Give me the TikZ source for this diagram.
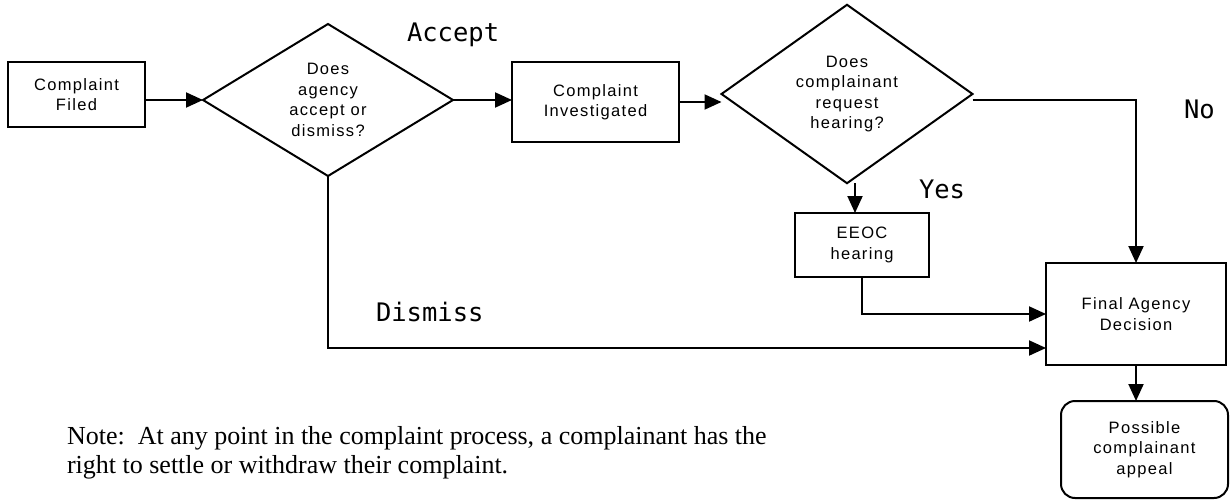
\documentclass[tikz,border=0pt]{standalone}
\usepackage{fontspec}
\setmainfont{Liberation Serif}
\newfontfamily\boxfont[LetterSpace=8]{Liberation Sans}
\newfontfamily\labfont{DejaVu Sans Mono}
\usetikzlibrary{shapes.geometric,arrows.meta}
\begin{document}
\begin{tikzpicture}[x=1pt,y=-1pt,
  every node/.style={inner sep=0pt, outer sep=0pt},
  txt/.style={align=center, font=\boxfont\fontsize{16.5}{20.5}\selectfont},
  proc/.style={txt, draw, line width=2pt, rectangle},
  dec/.style={txt, draw, line width=2pt, diamond},
  conn/.style={line width=2pt},
  arr/.style={conn, -{Triangle[length=17pt,width=15pt]}},
  lab/.style={font=\labfont\fontsize{25.5}{30}\selectfont, anchor=base west},
  note/.style={font=\fontsize{26}{29}\selectfont, anchor=base west}
]
\useasboundingbox (0,0) rectangle (1230,500);

\node[proc, minimum width=137pt, minimum height=65pt] (cf) at (76.5,94.5) {Complaint\\Filed};
\node[dec, minimum width=250pt, minimum height=152pt] (d1) at (328,100) {Does\\agency\\accept or\\dismiss?};
\node[proc, minimum width=167pt, minimum height=80pt] (ci) at (595.5,102) {Complaint\\Investigated};
\node[dec, minimum width=251pt, minimum height=163pt] (d2) at (847,94) {Does\\complainant\\request\\hearing?};
\node[proc, minimum width=134pt, minimum height=64pt] (eeoc) at (862,245) {EEOC\\hearing};
\node[proc, minimum width=180pt, minimum height=102pt] (fad) at (1136,314) {Final Agency\\Decision};
\node[proc, rounded corners=14pt, minimum width=167pt, minimum height=97pt] (app) at (1144.5,449.5) {Possible\\complainant\\appeal};

\draw[arr] (cf.east |- d1.west) -- (d1.west);
\draw[arr] (d1.east) -- (d1.east -| ci.west);
\draw[arr] (ci.east) -- (ci.east -| d2.west);
\draw[arr] ([yshift=-6pt]d2.east) -| (fad.north);
\draw[arr] ([xshift=8pt]d2.south) -- ([xshift=8pt]d2.south |- eeoc.north);
\draw[arr] (eeoc.south) |- (fad.west);
\draw[arr] (d1.south) |- ([yshift=-34pt]fad.west);
\draw[arr] (fad.south) -- (fad.south |- app.north);

\node[lab] (lacc) at (407,42) {Accept};
\node[lab] (lyes) at (919,198) {Yes};
\node[lab] (lno) at (1184,118) {No};
\node[lab] (ldis) at (376,321) {Dismiss};

\node[note] (n1) at (67,444) {Note:~~At any point in the complaint process, a complainant has the};
\node[note] (n2) at (67,473) {right to settle or withdraw their complaint.};
\end{tikzpicture}
\end{document}
